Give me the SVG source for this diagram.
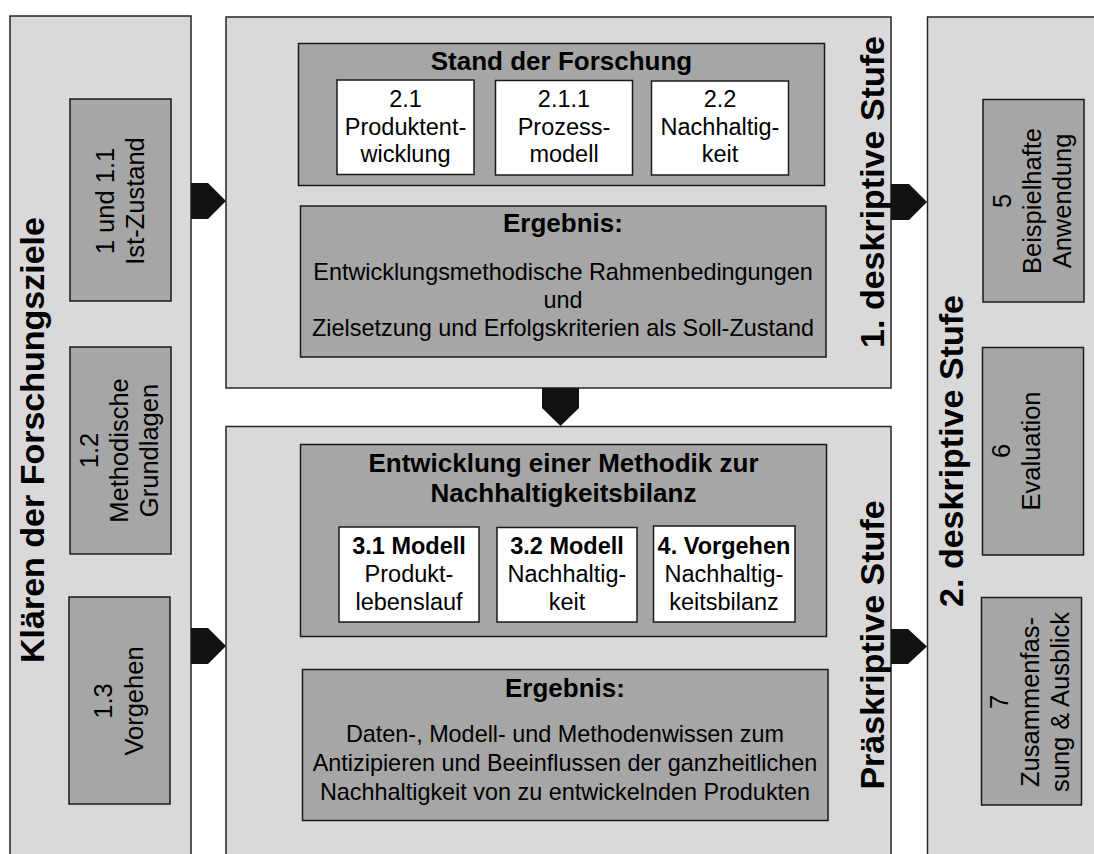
<svg xmlns="http://www.w3.org/2000/svg" width="1094" height="854" viewBox="0 0 1094 854">
<style>
.panel{fill:#d9d9d9;stroke:#262626;stroke-width:1.5}
.box{fill:#a6a6a6;stroke:#1a1a1a;stroke-width:1.5}
.wbox{fill:#ffffff;stroke:#1a1a1a;stroke-width:1.5}
.arrow{fill:#111111;stroke:none}
text{font-family:"Liberation Sans",Arial,sans-serif;fill:#000;text-anchor:middle}
.title{font-size:34px;font-weight:bold}
.head{font-size:26px;font-weight:bold}
.body{font-size:23.4px}
.vbox{font-size:25.5px}
.wtxt{font-size:23.5px}
.wb{font-weight:bold}
</style>
<rect width="1094" height="854" fill="#ffffff"/>

<g id="panel-klaeren">
<rect class="panel" x="10" y="16" width="181" height="860"/>
<text class="title" transform="translate(44,440) rotate(-90)">Klären der Forschungsziele</text>
</g>
<g id="box-1">
<rect class="box" x="70" y="99" width="101" height="202"/>
<text class="vbox" transform="translate(120.5,201) rotate(-90)"><tspan x="0" y="-7">1 und 1.1</tspan><tspan x="0" y="23.5">Ist-Zustand</tspan></text>
</g>
<g id="box-1-2">
<rect class="box" x="70" y="347" width="101" height="207"/>
<text class="vbox" transform="translate(120.5,450.5) rotate(-90)"><tspan x="0" y="-23">1.2</tspan><tspan x="0" y="7">Methodische</tspan><tspan x="0" y="37">Grundlagen</tspan></text>
</g>
<g id="box-1-3">
<rect class="box" x="69" y="597" width="101" height="207"/>
<text class="vbox" transform="translate(119.5,701) rotate(-90)"><tspan x="0" y="-8">1.3</tspan><tspan x="0" y="23">Vorgehen</tspan></text>
</g>

<g id="panel-deskriptiv-1">
<rect class="panel" x="226" y="17" width="665" height="371"/>
<text class="title" transform="translate(884,192) rotate(-90)">1. deskriptive Stufe</text>
</g>
<g id="box-stand">
<rect class="box" x="298.5" y="43.5" width="526" height="142"/>
<text class="head" x="561.5" y="70">Stand der Forschung</text>
</g>
<g id="box-2-1">
<rect class="wbox" x="337" y="80" width="137" height="94.5"/>
<text class="wtxt"><tspan x="405.5" y="107.3">2.1</tspan><tspan x="405.5" y="135">Produktent-</tspan><tspan x="405.5" y="162.3">wicklung</tspan></text>
</g>
<g id="box-2-1-1">
<rect class="wbox" x="495.5" y="80.5" width="137" height="94.5"/>
<text class="wtxt"><tspan x="564" y="107.3">2.1.1</tspan><tspan x="564" y="135">Prozess-</tspan><tspan x="564" y="162.3">modell</tspan></text>
</g>
<g id="box-2-2">
<rect class="wbox" x="651.5" y="81" width="137" height="94"/>
<text class="wtxt"><tspan x="720" y="107.3">2.2</tspan><tspan x="720" y="135">Nachhaltig-</tspan><tspan x="720" y="162.3">keit</tspan></text>
</g>
<g id="box-ergebnis-1">
<rect class="box" x="300.5" y="206" width="525.5" height="151"/>
<text class="head" x="563" y="231.7">Ergebnis:</text>
<text class="body"><tspan x="563" y="280">Entwicklungsmethodische Rahmenbedingungen</tspan><tspan x="563" y="308">und</tspan><tspan x="563" y="336">Zielsetzung und Erfolgskriterien als Soll-Zustand</tspan></text>
</g>

<g id="panel-praeskriptiv">
<rect class="panel" x="226" y="426.5" width="665" height="450"/>
<text class="title" transform="translate(884,645) rotate(-90)">Präskriptive Stufe</text>
</g>
<g id="box-entwicklung">
<rect class="box" x="300.5" y="444.5" width="526" height="192"/>
<text class="head"><tspan x="563.5" y="471.7">Entwicklung einer Methodik zur</tspan><tspan x="563.5" y="502.3">Nachhaltigkeitsbilanz</tspan></text>
</g>
<g id="box-3-1">
<rect class="wbox" x="339" y="527" width="140" height="95"/>
<text class="wtxt"><tspan class="wb" x="409" y="554">3.1 Modell</tspan><tspan x="409" y="581.7">Produkt-</tspan><tspan x="409" y="610">lebenslauf</tspan></text>
</g>
<g id="box-3-2">
<rect class="wbox" x="497" y="527.5" width="140" height="94.5"/>
<text class="wtxt"><tspan class="wb" x="567" y="554">3.2 Modell</tspan><tspan x="567" y="581.7">Nachhaltig-</tspan><tspan x="567" y="610">keit</tspan></text>
</g>
<g id="box-4">
<rect class="wbox" x="653.5" y="526" width="141.5" height="96"/>
<text class="wtxt"><tspan class="wb" x="724" y="554">4. Vorgehen</tspan><tspan x="724" y="581.7">Nachhaltig-</tspan><tspan x="724" y="610">keitsbilanz</tspan></text>
</g>
<g id="box-ergebnis-2">
<rect class="box" x="302.5" y="669.5" width="525.5" height="151"/>
<text class="head" x="565" y="696.7">Ergebnis:</text>
<text class="body"><tspan x="565" y="741.7">Daten-, Modell- und Methodenwissen zum</tspan><tspan x="565" y="770.7">Antizipieren und Beeinflussen der ganzheitlichen</tspan><tspan x="565" y="800">Nachhaltigkeit von zu entwickelnden Produkten</tspan></text>
</g>

<g id="panel-deskriptiv-2">
<rect class="panel" x="927.5" y="17" width="200" height="860"/>
<text class="title" transform="translate(963,451) rotate(-90)">2. deskriptive Stufe</text>
</g>
<g id="box-5">
<rect class="box" x="983" y="99.5" width="101" height="202.5"/>
<text class="vbox" transform="translate(1033.5,201) rotate(-90)"><tspan x="0" y="-23">5</tspan><tspan x="0" y="7">Beispielhafte</tspan><tspan x="0" y="37">Anwendung</tspan></text>
</g>
<g id="box-6">
<rect class="box" x="982.5" y="347.5" width="101" height="207.5"/>
<text class="vbox" transform="translate(1033,451) rotate(-90)"><tspan x="0" y="-23">6</tspan><tspan x="0" y="7">Evaluation</tspan></text>
</g>
<g id="box-7">
<rect class="box" x="981.5" y="597.5" width="100" height="207.5"/>
<text class="vbox" transform="translate(1032,702) rotate(-90)"><tspan x="0" y="-24">7</tspan><tspan x="0" y="7">Zusammenfas-</tspan><tspan x="0" y="37">sung &amp; Ausblick</tspan></text>
</g>

<g id="connectors">
<polygon class="arrow" points="191,183 208,183 226,201 208,219 191,219"/>
<polygon class="arrow" points="191,628 208,628 226,646 208,664 191,664"/>
<polygon class="arrow" points="891,184 909,184 927,202 909,220 891,220"/>
<polygon class="arrow" points="891,629 908,629 927,646.5 908,664 891,664"/>
<polygon class="arrow" points="542,388 579,388 579,408 560.5,426 542,408"/>
</g>
</svg>
